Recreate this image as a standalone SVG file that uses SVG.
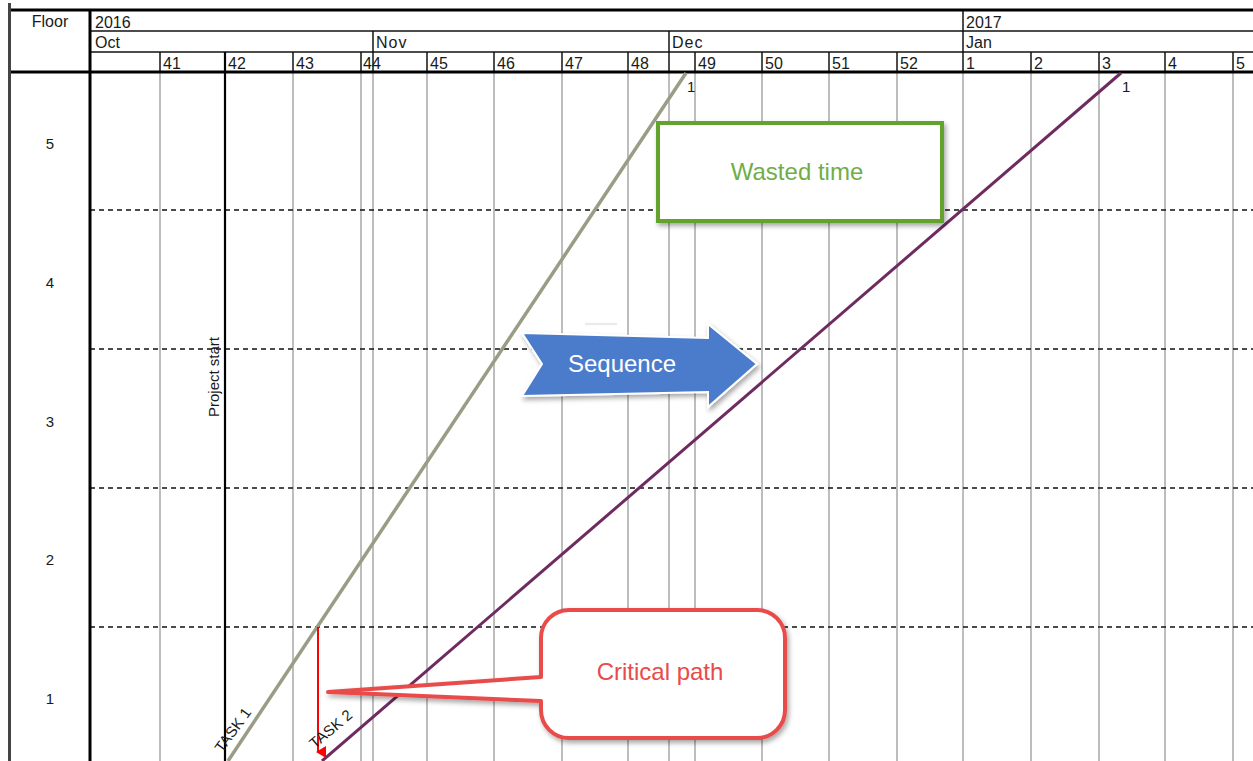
<svg xmlns="http://www.w3.org/2000/svg" width="1253" height="761" viewBox="0 0 1253 761">
  <defs>
    <style>
      .hdr { font-family: "Liberation Sans", Arial, sans-serif; font-size: 16px; fill: #1a1a1a; }
      .fl { font-family: "Liberation Sans", Arial, sans-serif; font-size: 15px; fill: #1a1a1a; text-anchor: middle; }
      .thin { stroke: #111; stroke-width: 1.3; fill: none; }
      .thick { stroke: #000; stroke-width: 3; fill: none; }
      .grid { stroke: #9a9a9a; stroke-width: 1.3; fill: none; }
      .dash { stroke: #111; stroke-width: 1.3; stroke-dasharray: 5 4; fill: none; }
      .lbl { font-family: "Liberation Sans", Arial, sans-serif; font-size: 24px; text-anchor: middle; }
      .small { font-family: "Liberation Sans", Arial, sans-serif; font-size: 15px; fill: #1a1a1a; }
    </style>
    <filter id="shadow" x="-10%" y="-10%" width="130%" height="140%">
      <feDropShadow dx="2" dy="3" stdDeviation="2.5" flood-color="#000" flood-opacity="0.35"/>
    </filter>
    <marker id="redhead" markerWidth="12" markerHeight="10" refX="6" refY="8" orient="auto" markerUnits="userSpaceOnUse" viewBox="0 0 12 10">
      <path d="M0,0 L12,0 L6,10 Z" fill="#ff0000"/>
    </marker>
  </defs>
  <rect x="0" y="0" width="1253" height="761" fill="#ffffff"/>

  <g id="grid">
    <g class="grid">
      <line x1="160" y1="52" x2="160" y2="761"/>
      <line x1="293" y1="52" x2="293" y2="761"/>
      <line x1="361" y1="52" x2="361" y2="761"/>
      <line x1="373" y1="31" x2="373" y2="761"/>
      <line x1="427" y1="52" x2="427" y2="761"/>
      <line x1="494" y1="52" x2="494" y2="761"/>
      <line x1="562" y1="52" x2="562" y2="761"/>
      <line x1="628" y1="52" x2="628" y2="761"/>
      <line x1="669" y1="31" x2="669" y2="761"/>
      <line x1="695" y1="52" x2="695" y2="761"/>
      <line x1="762" y1="52" x2="762" y2="761"/>
      <line x1="829" y1="52" x2="829" y2="761"/>
      <line x1="897" y1="52" x2="897" y2="761"/>
      <line x1="963" y1="10" x2="963" y2="761"/>
      <line x1="1031" y1="52" x2="1031" y2="761"/>
      <line x1="1099" y1="52" x2="1099" y2="761"/>
      <line x1="1165" y1="52" x2="1165" y2="761"/>
      <line x1="1233" y1="52" x2="1233" y2="761"/>
    </g>
    <g class="thin">
      <line x1="90" y1="31" x2="1253" y2="31"/>
      <line x1="90" y1="52" x2="1253" y2="52"/>
      <line x1="963" y1="10" x2="963" y2="72"/>
      <line x1="373" y1="31" x2="373" y2="72"/>
      <line x1="669" y1="31" x2="669" y2="72"/>
      <line x1="160" y1="52" x2="160" y2="72"/>
      <line x1="225" y1="52" x2="225" y2="72"/>
      <line x1="293" y1="52" x2="293" y2="72"/>
      <line x1="361" y1="52" x2="361" y2="72"/>
      <line x1="427" y1="52" x2="427" y2="72"/>
      <line x1="494" y1="52" x2="494" y2="72"/>
      <line x1="562" y1="52" x2="562" y2="72"/>
      <line x1="628" y1="52" x2="628" y2="72"/>
      <line x1="695" y1="52" x2="695" y2="72"/>
      <line x1="762" y1="52" x2="762" y2="72"/>
      <line x1="829" y1="52" x2="829" y2="72"/>
      <line x1="897" y1="52" x2="897" y2="72"/>
      <line x1="1031" y1="52" x2="1031" y2="72"/>
      <line x1="1099" y1="52" x2="1099" y2="72"/>
      <line x1="1165" y1="52" x2="1165" y2="72"/>
      <line x1="1233" y1="52" x2="1233" y2="72"/>
    </g>
    <g class="dash">
      <line x1="90" y1="210" x2="1253" y2="210"/>
      <line x1="90" y1="349" x2="1253" y2="349"/>
      <line x1="90" y1="488" x2="1253" y2="488"/>
      <line x1="90" y1="627" x2="1253" y2="627"/>
    </g>
    <line x1="9" y1="10" x2="1253" y2="10" class="thick"/>
    <line x1="9" y1="72" x2="1253" y2="72" class="thick"/>
    <line x1="9.5" y1="3" x2="9.5" y2="761" stroke="#444" stroke-width="3"/>
    <line x1="90" y1="10" x2="90" y2="761" class="thick"/>
    <line x1="225" y1="52" x2="225" y2="761" stroke="#000" stroke-width="2.2"/>
  </g>

  <g id="header-text">
    <text class="hdr" x="50" y="27" text-anchor="middle">Floor</text>
    <text class="hdr" x="95" y="28">2016</text>
    <text class="hdr" x="966" y="28">2017</text>
    <text class="hdr" x="95" y="48">Oct</text>
    <text class="hdr" x="376" y="48" letter-spacing="1">Nov</text>
    <text class="hdr" x="672" y="48" letter-spacing="1">Dec</text>
    <text class="hdr" x="966" y="48">Jan</text>
    <text class="hdr" x="163" y="69">41</text>
    <text class="hdr" x="228" y="69">42</text>
    <text class="hdr" x="296" y="69">43</text>
    <text class="hdr" x="363" y="69">44</text>
    <text class="hdr" x="430" y="69">45</text>
    <text class="hdr" x="497" y="69">46</text>
    <text class="hdr" x="565" y="69">47</text>
    <text class="hdr" x="631" y="69">48</text>
    <text class="hdr" x="698" y="69">49</text>
    <text class="hdr" x="765" y="69">50</text>
    <text class="hdr" x="832" y="69">51</text>
    <text class="hdr" x="900" y="69">52</text>
    <text class="hdr" x="966" y="69">1</text>
    <text class="hdr" x="1034" y="69">2</text>
    <text class="hdr" x="1102" y="69">3</text>
    <text class="hdr" x="1168" y="69">4</text>
    <text class="hdr" x="1236" y="69">5</text>
  </g>

  <g id="floor-labels">
    <text class="fl" x="50" y="149">5</text>
    <text class="fl" x="50" y="288">4</text>
    <text class="fl" x="50" y="427">3</text>
    <text class="fl" x="50" y="565">2</text>
    <text class="fl" x="50" y="704">1</text>
  </g>

  <g id="project-start">
    <text class="small" transform="translate(219,377) rotate(-90)" text-anchor="middle">Project start</text>
  </g>

  <g id="connectors">
    <line id="task1-line" x1="228" y1="761" x2="686" y2="73" stroke="#9b9c86" stroke-width="3.5"/>
    <line id="task2-line" x1="322" y1="761" x2="1121" y2="73" stroke="#6e2b5f" stroke-width="3"/>
    <line id="critical-drop" x1="318" y1="627" x2="318" y2="752" stroke="#ff0000" stroke-width="2" marker-end="url(#redhead)"/>
  </g>

  <g id="task-labels">
    <text class="small" transform="translate(237,733) rotate(-54)" text-anchor="middle" fill="#1a2a4a">TASK 1</text>
    <text class="small" transform="translate(334,733) rotate(-40)" text-anchor="middle" fill="#1a2a4a">TASK 2</text>
    <text class="small" x="687" y="92">1</text>
    <text class="small" x="1122" y="92">1</text>
  </g>

  <g id="wasted-time">
    <rect x="658" y="123" width="284" height="98" fill="#ffffff" stroke="#62a32e" stroke-width="4" filter="url(#shadow)"/>
    <text class="lbl" x="797" y="180" fill="#70ad47">Wasted time</text>
  </g>

  <g id="sequence">
    <path d="M585,324 L617,324" stroke="#d8d8d8" stroke-width="2.5" opacity="0.5"/>
    <polygon points="522,333 708,338 708,324 757,364 708,407 708,392 522,396 542,364" fill="#4b7bcb" stroke="#ffffff" stroke-width="2" filter="url(#shadow)"/>
    <text class="lbl" x="622" y="372" fill="#ffffff">Sequence</text>
  </g>

  <g id="critical-path">
    <path d="M569,610 H757 A28,28 0 0 1 785,638 V710 A28,28 0 0 1 757,738 H569 A28,28 0 0 1 541,710 V701 L328,692 L541,677 V638 A28,28 0 0 1 569,610 Z" fill="#ffffff" stroke="#e84c4a" stroke-width="4" stroke-linejoin="round" filter="url(#shadow)"/>
    <text class="lbl" x="660" y="680" fill="#e84c4a">Critical path</text>
  </g>
</svg>
